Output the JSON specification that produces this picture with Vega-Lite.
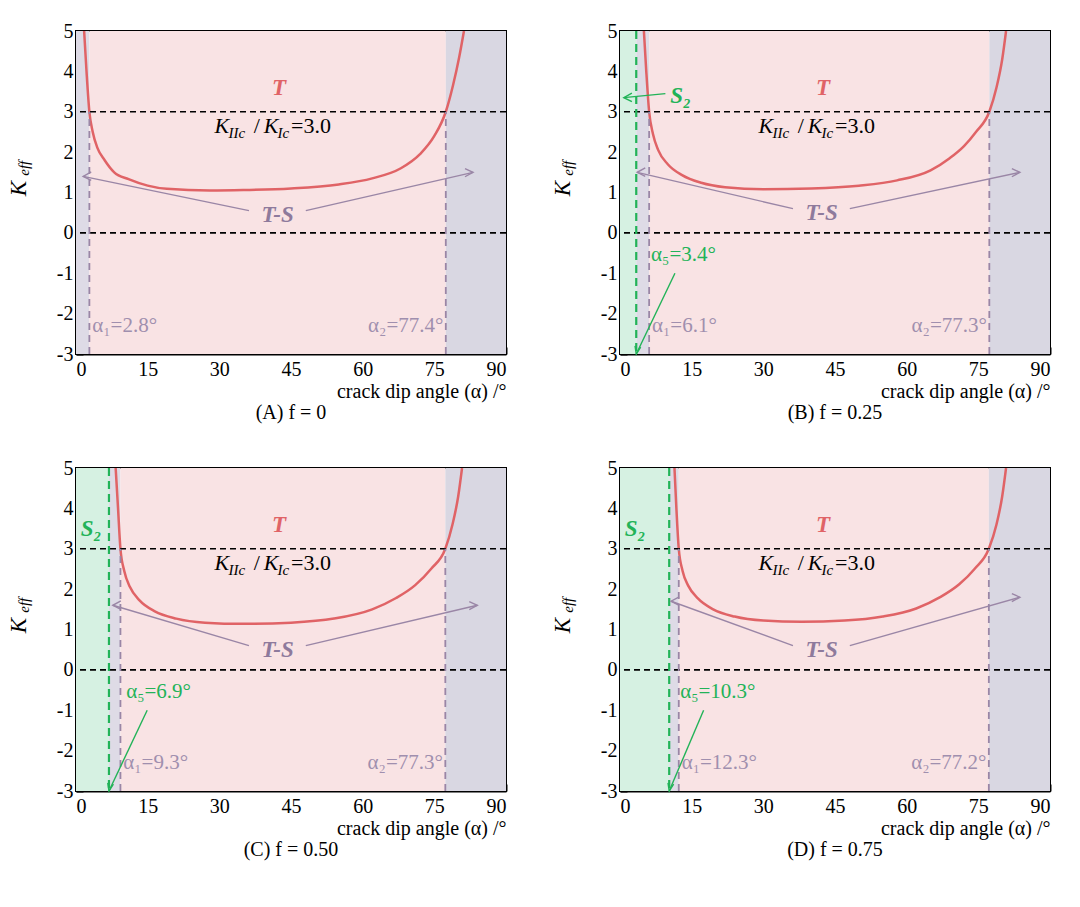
{
  "$schema": "https://vega.github.io/schema/vega-lite/v6.json",
  "background": "white",
  "padding": {"left": 6, "top": 20, "right": 15, "bottom": 5},
  "data": {"values": [
    {"p": "(A) f = 0", "type": "region", "a": 0, "a2": 2.8, "zone": "TS"},
    {"p": "(A) f = 0", "type": "region", "a": 2.8, "a2": 77.4, "zone": "T"},
    {"p": "(A) f = 0", "type": "region", "a": 77.4, "a2": 90, "zone": "TSR"},
    {"p": "(B) f = 0.25", "type": "region", "a": 0, "a2": 3.4, "zone": "S2"},
    {"p": "(B) f = 0.25", "type": "region", "a": 3.4, "a2": 6.1, "zone": "TS"},
    {"p": "(B) f = 0.25", "type": "region", "a": 6.1, "a2": 77.3, "zone": "T"},
    {"p": "(B) f = 0.25", "type": "region", "a": 77.3, "a2": 90, "zone": "TSR"},
    {"p": "(C) f = 0.50", "type": "region", "a": 0, "a2": 6.9, "zone": "S2"},
    {"p": "(C) f = 0.50", "type": "region", "a": 6.9, "a2": 9.3, "zone": "TS"},
    {"p": "(C) f = 0.50", "type": "region", "a": 9.3, "a2": 77.3, "zone": "T"},
    {"p": "(C) f = 0.50", "type": "region", "a": 77.3, "a2": 90, "zone": "TSR"},
    {"p": "(D) f = 0.75", "type": "region", "a": 0, "a2": 10.3, "zone": "S2"},
    {"p": "(D) f = 0.75", "type": "region", "a": 10.3, "a2": 12.3, "zone": "TS"},
    {"p": "(D) f = 0.75", "type": "region", "a": 12.3, "a2": 77.2, "zone": "T"},
    {"p": "(D) f = 0.75", "type": "region", "a": 77.2, "a2": 90, "zone": "TSR"},

    {"p": "(A) f = 0", "type": "curve", "a": 1.7, "k": 5},
    {"p": "(A) f = 0", "type": "curve", "a": 2.2, "k": 4.0},
    {"p": "(A) f = 0", "type": "curve", "a": 2.8, "k": 3},
    {"p": "(A) f = 0", "type": "curve", "a": 3.5, "k": 2.5},
    {"p": "(A) f = 0", "type": "curve", "a": 4.5, "k": 2.1},
    {"p": "(A) f = 0", "type": "curve", "a": 6, "k": 1.8},
    {"p": "(A) f = 0", "type": "curve", "a": 8, "k": 1.5},
    {"p": "(A) f = 0", "type": "curve", "a": 11, "k": 1.33},
    {"p": "(A) f = 0", "type": "curve", "a": 15, "k": 1.17},
    {"p": "(A) f = 0", "type": "curve", "a": 19, "k": 1.09},
    {"p": "(A) f = 0", "type": "curve", "a": 28, "k": 1.05},
    {"p": "(A) f = 0", "type": "curve", "a": 35, "k": 1.06},
    {"p": "(A) f = 0", "type": "curve", "a": 45, "k": 1.1},
    {"p": "(A) f = 0", "type": "curve", "a": 55, "k": 1.2},
    {"p": "(A) f = 0", "type": "curve", "a": 62, "k": 1.35},
    {"p": "(A) f = 0", "type": "curve", "a": 68, "k": 1.6},
    {"p": "(A) f = 0", "type": "curve", "a": 72, "k": 1.95},
    {"p": "(A) f = 0", "type": "curve", "a": 75, "k": 2.4},
    {"p": "(A) f = 0", "type": "curve", "a": 77.4, "k": 3},
    {"p": "(A) f = 0", "type": "curve", "a": 78.9, "k": 3.65},
    {"p": "(A) f = 0", "type": "curve", "a": 80.2, "k": 4.35},
    {"p": "(A) f = 0", "type": "curve", "a": 81.2, "k": 5},

    {"p": "(B) f = 0.25", "type": "curve", "a": 5.0, "k": 5},
    {"p": "(B) f = 0.25", "type": "curve", "a": 5.5, "k": 4},
    {"p": "(B) f = 0.25", "type": "curve", "a": 6.1, "k": 3},
    {"p": "(B) f = 0.25", "type": "curve", "a": 6.9, "k": 2.45},
    {"p": "(B) f = 0.25", "type": "curve", "a": 8, "k": 2.05},
    {"p": "(B) f = 0.25", "type": "curve", "a": 10, "k": 1.7},
    {"p": "(B) f = 0.25", "type": "curve", "a": 13, "k": 1.43},
    {"p": "(B) f = 0.25", "type": "curve", "a": 17, "k": 1.24},
    {"p": "(B) f = 0.25", "type": "curve", "a": 22, "k": 1.13},
    {"p": "(B) f = 0.25", "type": "curve", "a": 30, "k": 1.08},
    {"p": "(B) f = 0.25", "type": "curve", "a": 40, "k": 1.1},
    {"p": "(B) f = 0.25", "type": "curve", "a": 50, "k": 1.17},
    {"p": "(B) f = 0.25", "type": "curve", "a": 58, "k": 1.3},
    {"p": "(B) f = 0.25", "type": "curve", "a": 65, "k": 1.55},
    {"p": "(B) f = 0.25", "type": "curve", "a": 69, "k": 1.85},
    {"p": "(B) f = 0.25", "type": "curve", "a": 72, "k": 2.15},
    {"p": "(B) f = 0.25", "type": "curve", "a": 74.5, "k": 2.5},
    {"p": "(B) f = 0.25", "type": "curve", "a": 77.3, "k": 3},
    {"p": "(B) f = 0.25", "type": "curve", "a": 78.8, "k": 3.6},
    {"p": "(B) f = 0.25", "type": "curve", "a": 80, "k": 4.3},
    {"p": "(B) f = 0.25", "type": "curve", "a": 80.8, "k": 5},

    {"p": "(C) f = 0.50", "type": "curve", "a": 8.3, "k": 5},
    {"p": "(C) f = 0.50", "type": "curve", "a": 8.8, "k": 4},
    {"p": "(C) f = 0.50", "type": "curve", "a": 9.3, "k": 3},
    {"p": "(C) f = 0.50", "type": "curve", "a": 10.1, "k": 2.45},
    {"p": "(C) f = 0.50", "type": "curve", "a": 11.3, "k": 2.05},
    {"p": "(C) f = 0.50", "type": "curve", "a": 13.3, "k": 1.72},
    {"p": "(C) f = 0.50", "type": "curve", "a": 16.5, "k": 1.45},
    {"p": "(C) f = 0.50", "type": "curve", "a": 21, "k": 1.27},
    {"p": "(C) f = 0.50", "type": "curve", "a": 27, "k": 1.17},
    {"p": "(C) f = 0.50", "type": "curve", "a": 35, "k": 1.14},
    {"p": "(C) f = 0.50", "type": "curve", "a": 45, "k": 1.17},
    {"p": "(C) f = 0.50", "type": "curve", "a": 54, "k": 1.27},
    {"p": "(C) f = 0.50", "type": "curve", "a": 62, "k": 1.5},
    {"p": "(C) f = 0.50", "type": "curve", "a": 67, "k": 1.78},
    {"p": "(C) f = 0.50", "type": "curve", "a": 71, "k": 2.1},
    {"p": "(C) f = 0.50", "type": "curve", "a": 74.3, "k": 2.5},
    {"p": "(C) f = 0.50", "type": "curve", "a": 77.3, "k": 3},
    {"p": "(C) f = 0.50", "type": "curve", "a": 78.8, "k": 3.6},
    {"p": "(C) f = 0.50", "type": "curve", "a": 80, "k": 4.3},
    {"p": "(C) f = 0.50", "type": "curve", "a": 80.8, "k": 5},

    {"p": "(D) f = 0.75", "type": "curve", "a": 11.4, "k": 5},
    {"p": "(D) f = 0.75", "type": "curve", "a": 11.8, "k": 4},
    {"p": "(D) f = 0.75", "type": "curve", "a": 12.3, "k": 3},
    {"p": "(D) f = 0.75", "type": "curve", "a": 13.1, "k": 2.45},
    {"p": "(D) f = 0.75", "type": "curve", "a": 14.3, "k": 2.08},
    {"p": "(D) f = 0.75", "type": "curve", "a": 16.3, "k": 1.77},
    {"p": "(D) f = 0.75", "type": "curve", "a": 19.5, "k": 1.5},
    {"p": "(D) f = 0.75", "type": "curve", "a": 24, "k": 1.32},
    {"p": "(D) f = 0.75", "type": "curve", "a": 30, "k": 1.22},
    {"p": "(D) f = 0.75", "type": "curve", "a": 38, "k": 1.19},
    {"p": "(D) f = 0.75", "type": "curve", "a": 47, "k": 1.22},
    {"p": "(D) f = 0.75", "type": "curve", "a": 55, "k": 1.32},
    {"p": "(D) f = 0.75", "type": "curve", "a": 62, "k": 1.52},
    {"p": "(D) f = 0.75", "type": "curve", "a": 67, "k": 1.8},
    {"p": "(D) f = 0.75", "type": "curve", "a": 71, "k": 2.12},
    {"p": "(D) f = 0.75", "type": "curve", "a": 74.2, "k": 2.5},
    {"p": "(D) f = 0.75", "type": "curve", "a": 77.2, "k": 3},
    {"p": "(D) f = 0.75", "type": "curve", "a": 78.8, "k": 3.6},
    {"p": "(D) f = 0.75", "type": "curve", "a": 80, "k": 4.3},
    {"p": "(D) f = 0.75", "type": "curve", "a": 80.8, "k": 5},

    {"p": "(A) f = 0", "type": "hline", "k": 3},
    {"p": "(A) f = 0", "type": "hline", "k": 0},
    {"p": "(B) f = 0.25", "type": "hline", "k": 3},
    {"p": "(B) f = 0.25", "type": "hline", "k": 0},
    {"p": "(C) f = 0.50", "type": "hline", "k": 3},
    {"p": "(C) f = 0.50", "type": "hline", "k": 0},
    {"p": "(D) f = 0.75", "type": "hline", "k": 3},
    {"p": "(D) f = 0.75", "type": "hline", "k": 0},

    {"p": "(A) f = 0", "type": "vline", "a": 2.8},
    {"p": "(A) f = 0", "type": "vline", "a": 77.4},
    {"p": "(B) f = 0.25", "type": "vline", "a": 6.1},
    {"p": "(B) f = 0.25", "type": "vline", "a": 77.3},
    {"p": "(C) f = 0.50", "type": "vline", "a": 9.3},
    {"p": "(C) f = 0.50", "type": "vline", "a": 77.3},
    {"p": "(D) f = 0.75", "type": "vline", "a": 12.3},
    {"p": "(D) f = 0.75", "type": "vline", "a": 77.2},

    {"p": "(B) f = 0.25", "type": "gline", "a": 3.4},
    {"p": "(C) f = 0.50", "type": "gline", "a": 6.9},
    {"p": "(D) f = 0.75", "type": "gline", "a": 10.3},

    {"p": "(A) f = 0", "type": "arrow", "a": 36.2, "k": 0.55, "a2": 1.5, "k2": 1.4, "head": "left"},
    {"p": "(A) f = 0", "type": "arrow", "a": 48.1, "k": 0.55, "a2": 83.1, "k2": 1.5, "head": "right"},
    {"p": "(B) f = 0.25", "type": "arrow", "a": 36.2, "k": 0.6, "a2": 3.6, "k2": 1.5, "head": "left"},
    {"p": "(B) f = 0.25", "type": "arrow", "a": 48.1, "k": 0.6, "a2": 83.7, "k2": 1.5, "head": "right"},
    {"p": "(C) f = 0.50", "type": "arrow", "a": 36.2, "k": 0.6, "a2": 7.7, "k2": 1.6, "head": "left"},
    {"p": "(C) f = 0.50", "type": "arrow", "a": 48.1, "k": 0.6, "a2": 84, "k2": 1.6, "head": "right"},
    {"p": "(D) f = 0.75", "type": "arrow", "a": 36.2, "k": 0.6, "a2": 10.7, "k2": 1.7, "head": "left"},
    {"p": "(D) f = 0.75", "type": "arrow", "a": 48.1, "k": 0.6, "a2": 83.7, "k2": 1.8, "head": "right"},

    {"p": "(B) f = 0.25", "type": "garrow", "a": 9.5, "k": 3.45, "a2": 0.8, "k2": 3.35, "head": "left"},
    {"p": "(B) f = 0.25", "type": "garrow", "a": 11.5, "k": -1.0, "a2": 3.4, "k2": -3, "head": "down"},
    {"p": "(C) f = 0.50", "type": "garrow", "a": 14.9, "k": -1.0, "a2": 6.9, "k2": -3, "head": "down"},
    {"p": "(D) f = 0.75", "type": "garrow", "a": 17.5, "k": -1.0, "a2": 10.3, "k2": -3, "head": "down"},

    {"p": "(A) f = 0", "type": "tT", "a": 42.5, "k": 3.6, "text": "T"},
    {"p": "(B) f = 0.25", "type": "tT", "a": 42.5, "k": 3.6, "text": "T"},
    {"p": "(C) f = 0.50", "type": "tT", "a": 42.5, "k": 3.6, "text": "T"},
    {"p": "(D) f = 0.75", "type": "tT", "a": 42.5, "k": 3.6, "text": "T"},
    {"p": "(A) f = 0", "type": "tTS", "a": 42.2, "k": 0.45, "text": "T-S"},
    {"p": "(B) f = 0.25", "type": "tTS", "a": 42.2, "k": 0.5, "text": "T-S"},
    {"p": "(C) f = 0.50", "type": "tTS", "a": 42.2, "k": 0.5, "text": "T-S"},
    {"p": "(D) f = 0.75", "type": "tTS", "a": 42.2, "k": 0.5, "text": "T-S"},
    {"p": "(B) f = 0.25", "type": "tS2", "a": 10.5, "k": 3.4, "text": "S₂"},
    {"p": "(C) f = 0.50", "type": "tS2", "a": 1.0, "k": 3.5, "text": "S₂"},
    {"p": "(D) f = 0.75", "type": "tS2", "a": 1.0, "k": 3.5, "text": "S₂"},

    {"p": "(A) f = 0", "type": "tK", "a": 29.0, "k": 2.65, "text": "K"},
    {"p": "(A) f = 0", "type": "tK", "a": 39.3, "k": 2.65, "text": "K"},
    {"p": "(A) f = 0", "type": "tSub", "a": 31.9, "k": 2.65, "text": "IIc"},
    {"p": "(A) f = 0", "type": "tSub", "a": 42.2, "k": 2.65, "text": "Ic"},
    {"p": "(A) f = 0", "type": "tPlain", "a": 37.2, "k": 2.65, "text": "/"},
    {"p": "(A) f = 0", "type": "tPlain", "a": 45.0, "k": 2.65, "text": "=3.0"},
    {"p": "(B) f = 0.25", "type": "tK", "a": 29.0, "k": 2.65, "text": "K"},
    {"p": "(B) f = 0.25", "type": "tK", "a": 39.3, "k": 2.65, "text": "K"},
    {"p": "(B) f = 0.25", "type": "tSub", "a": 31.9, "k": 2.65, "text": "IIc"},
    {"p": "(B) f = 0.25", "type": "tSub", "a": 42.2, "k": 2.65, "text": "Ic"},
    {"p": "(B) f = 0.25", "type": "tPlain", "a": 37.2, "k": 2.65, "text": "/"},
    {"p": "(B) f = 0.25", "type": "tPlain", "a": 45.0, "k": 2.65, "text": "=3.0"},
    {"p": "(C) f = 0.50", "type": "tK", "a": 29.0, "k": 2.65, "text": "K"},
    {"p": "(C) f = 0.50", "type": "tK", "a": 39.3, "k": 2.65, "text": "K"},
    {"p": "(C) f = 0.50", "type": "tSub", "a": 31.9, "k": 2.65, "text": "IIc"},
    {"p": "(C) f = 0.50", "type": "tSub", "a": 42.2, "k": 2.65, "text": "Ic"},
    {"p": "(C) f = 0.50", "type": "tPlain", "a": 37.2, "k": 2.65, "text": "/"},
    {"p": "(C) f = 0.50", "type": "tPlain", "a": 45.0, "k": 2.65, "text": "=3.0"},
    {"p": "(D) f = 0.75", "type": "tK", "a": 29.0, "k": 2.65, "text": "K"},
    {"p": "(D) f = 0.75", "type": "tK", "a": 39.3, "k": 2.65, "text": "K"},
    {"p": "(D) f = 0.75", "type": "tSub", "a": 31.9, "k": 2.65, "text": "IIc"},
    {"p": "(D) f = 0.75", "type": "tSub", "a": 42.2, "k": 2.65, "text": "Ic"},
    {"p": "(D) f = 0.75", "type": "tPlain", "a": 37.2, "k": 2.65, "text": "/"},
    {"p": "(D) f = 0.75", "type": "tPlain", "a": 45.0, "k": 2.65, "text": "=3.0"},

    {"p": "(A) f = 0", "type": "tAlpha", "a": 3.4, "k": -2.3, "text": "α₁=2.8°", "side": "l"},
    {"p": "(A) f = 0", "type": "tAlpha", "a": 76.9, "k": -2.3, "text": "α₂=77.4°", "side": "r"},
    {"p": "(B) f = 0.25", "type": "tAlpha", "a": 6.7, "k": -2.3, "text": "α₁=6.1°", "side": "l"},
    {"p": "(B) f = 0.25", "type": "tAlpha", "a": 76.8, "k": -2.3, "text": "α₂=77.3°", "side": "r"},
    {"p": "(C) f = 0.50", "type": "tAlpha", "a": 9.9, "k": -2.3, "text": "α₁=9.3°", "side": "l"},
    {"p": "(C) f = 0.50", "type": "tAlpha", "a": 76.8, "k": -2.3, "text": "α₂=77.3°", "side": "r"},
    {"p": "(D) f = 0.75", "type": "tAlpha", "a": 12.9, "k": -2.3, "text": "α₁=12.3°", "side": "l"},
    {"p": "(D) f = 0.75", "type": "tAlpha", "a": 76.7, "k": -2.3, "text": "α₂=77.2°", "side": "r"},
    {"p": "(B) f = 0.25", "type": "tAlpha5", "a": 6.5, "k": -0.55, "text": "α₅=3.4°"},
    {"p": "(C) f = 0.50", "type": "tAlpha5", "a": 10.5, "k": -0.55, "text": "α₅=6.9°"},
    {"p": "(D) f = 0.75", "type": "tAlpha5", "a": 12.6, "k": -0.55, "text": "α₅=10.3°"},

    {"p": "(A) f = 0", "type": "yK", "a": -12, "k": 1.1, "text": "K"},
    {"p": "(A) f = 0", "type": "ySub", "a": -12, "k": 1.6, "text": "eff"},
    {"p": "(B) f = 0.25", "type": "yK", "a": -12, "k": 1.1, "text": "K"},
    {"p": "(B) f = 0.25", "type": "ySub", "a": -12, "k": 1.6, "text": "eff"},
    {"p": "(C) f = 0.50", "type": "yK", "a": -12, "k": 1.1, "text": "K"},
    {"p": "(C) f = 0.50", "type": "ySub", "a": -12, "k": 1.6, "text": "eff"},
    {"p": "(D) f = 0.75", "type": "yK", "a": -12, "k": 1.1, "text": "K"},
    {"p": "(D) f = 0.75", "type": "ySub", "a": -12, "k": 1.6, "text": "eff"}
  ]},
  "facet": {"field": "p", "type": "nominal", "header": {"title": null, "labelOrient": "bottom", "labelFont": "Liberation Serif", "labelFontSize": 20, "labelColor": "black", "labelPadding": 2}},
  "columns": 2,
  "spacing": {"column": 42, "row": 33},
  "resolve": {"axis": {"x": "independent", "y": "independent"}},
  "spec": {
    "width": 430,
    "height": 323,
    "layer": [
      {"transform": [{"filter": "datum.type == 'region'"}],
        "mark": {"type": "rect"},
        "encoding": {
          "x": {"field": "a", "type": "quantitative", "scale": {"domain": [0, 90], "nice": false, "zero": false},
            "axis": {"values": [0, 15, 30, 45, 60, 75, 90], "title": "crack dip angle (α) /°", "titleAnchor": "end", "titlePadding": 2}},
          "x2": {"field": "a2"},
          "y": {"datum": -3, "type": "quantitative", "scale": {"domain": [-3, 5], "nice": false},
            "axis": {"values": [-3, -2, -1, 0, 1, 2, 3, 4, 5], "title": null, "labelExpr": "'' + datum.value"}},
          "y2": {"datum": 5},
          "fill": {"field": "zone", "type": "nominal", "legend": null,
            "scale": {"domain": ["T", "TS", "TSR", "S2"], "range": ["#f9e3e4", "#dedbe6", "#d9d7e2", "#d6f1e2"]}}}},
      {"transform": [{"filter": "datum.type == 'curve'"}],
        "mark": {"type": "line", "color": "#e06366", "strokeWidth": 2.5, "clip": true, "interpolate": "monotone"},
        "encoding": {"x": {"field": "a", "type": "quantitative"}, "y": {"field": "k", "type": "quantitative"}, "order": {"field": "a"}}},
      {"transform": [{"filter": "datum.type == 'hline'"}],
        "mark": {"type": "rule", "color": "black", "strokeDash": [6, 4], "strokeWidth": 1.6},
        "encoding": {"y": {"field": "k", "type": "quantitative"}}},
      {"transform": [{"filter": "datum.type == 'vline'"}],
        "mark": {"type": "rule", "color": "#9a86a6", "strokeDash": [7, 5], "strokeWidth": 1.8},
        "encoding": {"x": {"field": "a", "type": "quantitative"}, "y": {"datum": -3, "type": "quantitative"}, "y2": {"datum": 3}}},
      {"transform": [{"filter": "datum.type == 'gline'"}],
        "mark": {"type": "rule", "color": "#22b358", "strokeDash": [8, 5], "strokeWidth": 2.2},
        "encoding": {"x": {"field": "a", "type": "quantitative"}}},
      {"transform": [{"filter": "datum.type == 'arrow'"}],
        "mark": {"type": "rule", "color": "#9a86a6", "strokeWidth": 1.4},
        "encoding": {"x": {"field": "a", "type": "quantitative"}, "y": {"field": "k", "type": "quantitative"}, "x2": {"field": "a2"}, "y2": {"field": "k2"}}},
      {"transform": [{"filter": "datum.type == 'garrow'"}],
        "mark": {"type": "rule", "color": "#22b358", "strokeWidth": 1.4},
        "encoding": {"x": {"field": "a", "type": "quantitative"}, "y": {"field": "k", "type": "quantitative"}, "x2": {"field": "a2"}, "y2": {"field": "k2"}}},
      {"transform": [{"filter": "datum.type == 'arrow' || datum.type == 'garrow'"}],
        "mark": {"type": "point", "filled": false, "strokeWidth": 1.4, "size": 260, "opacity": 1},
        "encoding": {"x": {"field": "a2", "type": "quantitative"}, "y": {"field": "k2", "type": "quantitative"},
          "shape": {"field": "head", "type": "nominal", "legend": null,
            "scale": {"domain": ["left", "right", "down"], "range": ["M1,-0.55L0,0L1,0.5", "M-1,-0.45L0,0L-1,0.55", "M-0.15,-1L0,0L0.55,-0.85"]}},
          "stroke": {"field": "type", "type": "nominal", "legend": null,
            "scale": {"domain": ["arrow", "garrow"], "range": ["#9a86a6", "#22b358"]}}}},
      {"transform": [{"filter": "datum.type == 'tT'"}],
        "mark": {"type": "text", "font": "Liberation Serif", "fontSize": 23, "fontWeight": "bold", "fontStyle": "italic", "color": "#e06366"},
        "encoding": {"x": {"field": "a", "type": "quantitative"}, "y": {"field": "k", "type": "quantitative"}, "text": {"field": "text"}}},
      {"transform": [{"filter": "datum.type == 'tTS'"}],
        "mark": {"type": "text", "font": "Liberation Serif", "fontSize": 23, "fontWeight": "bold", "fontStyle": "italic", "color": "#8e7a9c"},
        "encoding": {"x": {"field": "a", "type": "quantitative"}, "y": {"field": "k", "type": "quantitative"}, "text": {"field": "text"}}},
      {"transform": [{"filter": "datum.type == 'tS2'"}],
        "mark": {"type": "text", "align": "left", "font": "Liberation Serif", "fontSize": 23, "fontWeight": "bold", "fontStyle": "italic", "color": "#22b358"},
        "encoding": {"x": {"field": "a", "type": "quantitative"}, "y": {"field": "k", "type": "quantitative"}, "text": {"field": "text"}}},
      {"transform": [{"filter": "datum.type == 'tK'"}],
        "mark": {"type": "text", "align": "left", "font": "Liberation Serif", "fontSize": 22, "fontStyle": "italic", "color": "black"},
        "encoding": {"x": {"field": "a", "type": "quantitative"}, "y": {"field": "k", "type": "quantitative"}, "text": {"field": "text"}}},
      {"transform": [{"filter": "datum.type == 'tSub'"}],
        "mark": {"type": "text", "align": "left", "dy": 7, "font": "Liberation Serif", "fontSize": 15, "fontStyle": "italic", "color": "black"},
        "encoding": {"x": {"field": "a", "type": "quantitative"}, "y": {"field": "k", "type": "quantitative"}, "text": {"field": "text"}}},
      {"transform": [{"filter": "datum.type == 'tPlain'"}],
        "mark": {"type": "text", "align": "left", "font": "Liberation Serif", "fontSize": 22, "color": "black"},
        "encoding": {"x": {"field": "a", "type": "quantitative"}, "y": {"field": "k", "type": "quantitative"}, "text": {"field": "text"}}},
      {"transform": [{"filter": "datum.type == 'tAlpha' && datum.side == 'l'"}],
        "mark": {"type": "text", "align": "left", "font": "Liberation Serif", "fontSize": 21, "color": "#a08fae"},
        "encoding": {"x": {"field": "a", "type": "quantitative"}, "y": {"field": "k", "type": "quantitative"}, "text": {"field": "text"}}},
      {"transform": [{"filter": "datum.type == 'tAlpha' && datum.side == 'r'"}],
        "mark": {"type": "text", "align": "right", "font": "Liberation Serif", "fontSize": 21, "color": "#a08fae"},
        "encoding": {"x": {"field": "a", "type": "quantitative"}, "y": {"field": "k", "type": "quantitative"}, "text": {"field": "text"}}},
      {"transform": [{"filter": "datum.type == 'tAlpha5'"}],
        "mark": {"type": "text", "align": "left", "font": "Liberation Serif", "fontSize": 21, "color": "#22b358"},
        "encoding": {"x": {"field": "a", "type": "quantitative"}, "y": {"field": "k", "type": "quantitative"}, "text": {"field": "text"}}},
      {"transform": [{"filter": "datum.type == 'yK'"}],
        "mark": {"type": "text", "angle": 270, "font": "Liberation Serif", "fontSize": 23, "fontStyle": "italic", "color": "black", "clip": false},
        "encoding": {"x": {"field": "a", "type": "quantitative"}, "y": {"field": "k", "type": "quantitative"}, "text": {"field": "text"}}},
      {"transform": [{"filter": "datum.type == 'ySub'"}],
        "mark": {"type": "text", "angle": 270, "dy": 5, "font": "Liberation Serif", "fontSize": 15, "fontStyle": "italic", "color": "black", "clip": false},
        "encoding": {"x": {"field": "a", "type": "quantitative"}, "y": {"field": "k", "type": "quantitative"}, "text": {"field": "text"}}}
    ]
  },
  "config": {
    "view": {"stroke": "black", "strokeWidth": 2},
    "axis": {"grid": false, "domainColor": "black", "domainWidth": 2, "tickColor": "black", "tickWidth": 2, "tickSize": -7,
      "labelFont": "Liberation Serif", "labelFontSize": 20, "labelColor": "black", "labelPadding": 12,
      "titleFont": "Liberation Serif", "titleFontSize": 20, "titleFontWeight": "normal", "titleColor": "black"},
    "axisY": {"labelPadding": 10}
  }
}
